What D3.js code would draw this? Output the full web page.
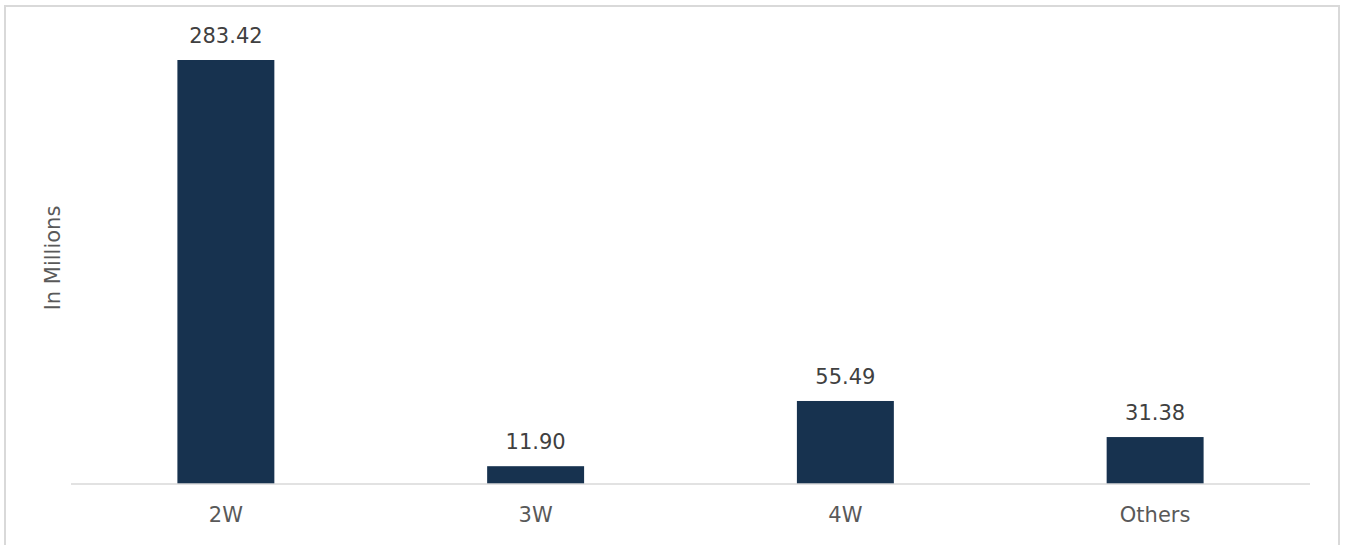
<!DOCTYPE html>
<html>
<head>
<meta charset="utf-8">
<script src="https://cdn.jsdelivr.net/npm/d3@7"></script>
<style>
  html, body { margin: 0; padding: 0; background: #fff; }
  svg { display: block; }
  text { font-family: "DejaVu Sans", Verdana, sans-serif; }
</style>
</head>
<body>
<svg id="chart" width="1346" height="545"></svg>
<script>
const categories = ["2W", "3W", "4W", "Others"];
const values = [283.42, 11.90, 55.49, 31.38];
const valueLabels = ["283.42", "11.90", "55.49", "31.38"];
const yAxisTitle = "In Millions";

const svg = d3.select("#chart");

// outer border
svg.append("rect")
  .attr("x", 5).attr("y", 6)
  .attr("width", 1334).attr("height", 620)
  .attr("fill", "none")
  .attr("stroke", "#d9d9d9")
  .attr("stroke-width", 2);

const x = d3.scaleBand()
  .domain(categories)
  .range([71, 1310])
  .paddingInner(0.687)
  .paddingOuter(0.3435);

const y = d3.scaleLinear()
  .domain([0, 300])
  .range([484, 484 - 300 * (424 / 283.42)]);

// bars
svg.selectAll("rect.bar")
  .data(values)
  .enter().append("rect")
  .attr("class", "bar")
  .attr("x", (d, i) => x(categories[i]))
  .attr("y", d => y(d))
  .attr("width", x.bandwidth())
  .attr("height", d => y(0) - y(d))
  .attr("fill", "#17324f");

// x axis
const xAxis = d3.axisBottom(x).tickSize(0).tickPadding(23);
const gx = svg.append("g")
  .attr("transform", `translate(0,${y(0)})`)
  .call(xAxis);
gx.select(".domain").attr("stroke", "#d9d9d9").attr("stroke-width", 1.5)
  .attr("d", "M71,0H1310");
gx.selectAll("text")
  .attr("fill", "#595959")
  .style("font-size", "21px")
  .style("font-family", "'DejaVu Sans', Verdana, sans-serif");

// value labels
svg.selectAll("text.val")
  .data(values)
  .enter().append("text")
  .attr("class", "val")
  .attr("x", (d, i) => x(categories[i]) + x.bandwidth() / 2)
  .attr("y", d => y(d) - 17)
  .attr("text-anchor", "middle")
  .attr("fill", "#404040")
  .style("font-size", "21px")
  .text((d, i) => valueLabels[i]);

// y axis title
svg.append("text")
  .attr("transform", "translate(60,258) rotate(-90)")
  .attr("text-anchor", "middle")
  .attr("fill", "#595959")
  .style("font-size", "21px")
  .text(yAxisTitle);
</script>
</body>
</html>
